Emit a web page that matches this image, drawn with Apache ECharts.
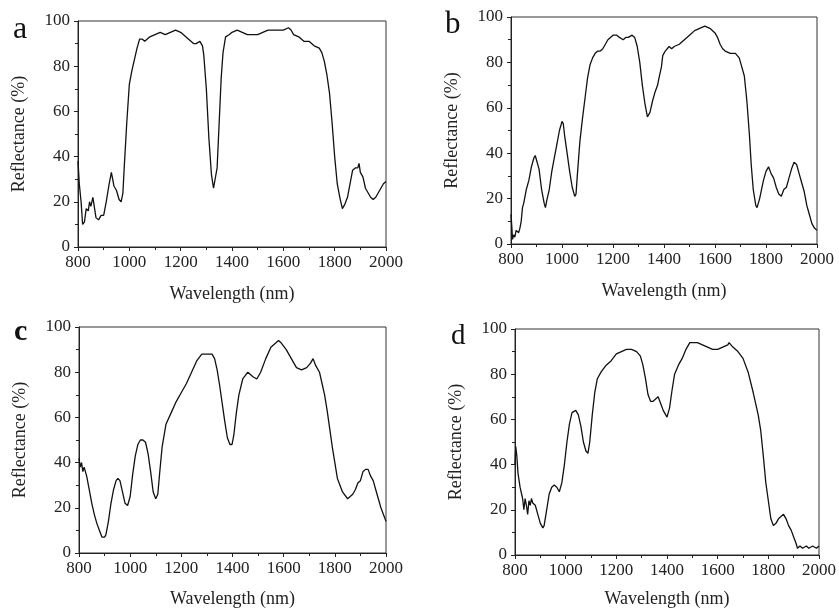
<!DOCTYPE html>
<html>
<head>
<meta charset="utf-8">
<script src="https://cdn.jsdelivr.net/npm/echarts@6/dist/echarts.min.js"></script>
<style>
html,body{margin:0;padding:0;background:#fff;}
#chart{width:839px;height:609px;}
</style>
</head>
<body>
<div id="chart"></div>
<script>
// Panel a
var aWave = [800,805,812,818,825,832,840,845,850,858,862,870,880,890,900,910,920,930,935,940,950,960,968,975,980,990,1000,1010,1020,1030,1040,1050,1060,1080,1100,1120,1140,1160,1180,1200,1220,1240,1250,1260,1275,1285,1290,1300,1310,1320,1328,1335,1342,1350,1358,1365,1375,1390,1400,1420,1440,1460,1480,1500,1520,1540,1560,1580,1600,1620,1630,1640,1660,1680,1700,1720,1740,1750,1760,1770,1780,1790,1800,1810,1820,1830,1840,1850,1860,1870,1880,1890,1895,1900,1910,1920,1930,1940,1950,1960,1970,1980,1990,2000];
var aRefl = [38,28,20,10,11,17,16,20,18,22,19,13,12,14,14,20,27,33,30,27,25,21,20,24,35,55,72,78,83,88,92,92,91,93,94,95,94,95,96,95,93,91,90,90,91,89,85,70,48,32,26,26,35,55,75,86,93,94,95,96,95,94,94,94,95,96,96,96,96,97,96,94,93,91,91,89,88,86,82,76,68,55,40,28,22,17,19,22,28,34,35,35,37,33,31,26,24,22,21,22,24,26,28,29];
// Panel b
var bWave = [800,803,806,810,815,820,830,835,840,845,850,860,870,880,890,895,900,910,920,930,935,940,950,960,970,980,990,1000,1005,1010,1020,1030,1040,1050,1055,1060,1070,1080,1090,1100,1110,1120,1130,1140,1150,1160,1170,1180,1190,1200,1215,1225,1240,1250,1260,1275,1285,1295,1305,1315,1325,1335,1345,1355,1365,1375,1380,1390,1395,1405,1420,1430,1440,1460,1480,1500,1520,1540,1560,1580,1600,1610,1620,1630,1640,1660,1680,1695,1705,1715,1725,1735,1742,1750,1760,1765,1775,1790,1800,1810,1820,1830,1840,1850,1860,1870,1880,1890,1900,1910,1920,1930,1940,1950,1960,1970,1980,1990,2000];
var bRefl = [13,8,2,4,3,6,5,7,10,16,18,24,28,34,38,39,37,33,24,18,16,19,24,32,38,44,50,54,53,48,40,32,25,21,22,30,45,55,64,73,79,82,84,85,85,86,88,90,91,92,92,91,90,91,91,92,91,87,80,70,62,56,58,63,67,70,73,78,83,85,87,86,87,88,90,92,94,95,96,95,93,91,88,86,85,84,84,82,78,74,63,48,35,24,17,16,20,28,32,34,31,29,25,22,21,24,25,29,33,36,35,31,27,23,17,13,9,7,6];
// Panel c
var cWave = [800,805,810,815,820,825,830,840,850,860,870,880,890,900,905,915,925,935,945,952,960,970,980,990,1000,1010,1020,1030,1040,1050,1060,1070,1080,1090,1100,1108,1115,1125,1140,1160,1180,1200,1220,1240,1260,1280,1300,1320,1330,1340,1350,1360,1370,1380,1390,1398,1405,1415,1425,1440,1460,1480,1495,1510,1530,1550,1570,1580,1590,1610,1630,1650,1670,1690,1705,1715,1725,1740,1750,1760,1770,1780,1790,1800,1810,1820,1830,1850,1860,1870,1880,1890,1900,1910,1920,1930,1940,1950,1960,1970,1980,1990,2000];
var cRefl = [42,38,40,36,38,36,34,28,22,17,13,10,7,7,8,14,22,28,32,33,32,27,22,21,25,35,43,48,50,50,49,44,36,27,24,26,35,47,57,62,67,71,75,80,85,88,88,88,86,81,74,66,58,51,48,48,52,62,70,77,80,78,77,80,86,91,93,94,93,90,86,82,81,82,84,86,83,80,75,70,63,55,47,40,33,30,27,24,25,26,28,31,32,36,37,37,34,32,28,24,20,17,14];
// Panel d
var dWave = [800,803,807,812,820,830,835,840,845,850,855,860,865,870,880,890,900,910,915,925,935,945,955,965,975,985,995,1005,1015,1025,1040,1050,1060,1070,1080,1088,1095,1105,1115,1125,1140,1160,1180,1200,1220,1240,1260,1280,1295,1305,1315,1325,1335,1345,1355,1365,1375,1385,1400,1410,1420,1430,1445,1460,1475,1490,1505,1520,1540,1560,1580,1600,1620,1640,1645,1660,1680,1700,1720,1740,1760,1770,1780,1790,1800,1810,1820,1830,1840,1850,1860,1870,1880,1890,1900,1910,1915,1925,1935,1950,1960,1975,1990,2000];
var dRefl = [40,48,44,36,30,25,20,25,22,18,24,22,25,23,22,18,14,12,13,20,27,30,31,30,28,32,40,50,58,63,64,62,57,50,46,45,50,62,72,78,81,84,86,89,90,91,91,90,88,84,78,71,68,68,69,70,67,64,61,65,73,80,84,87,91,94,94,94,93,92,91,91,92,93,94,92,90,87,81,72,62,55,44,32,24,16,13,14,16,17,18,16,13,11,8,5,3,4,3,4,3,4,3,4];

var xTicks = [800,1000,1200,1400,1600,1800,2000];
var yTicks = [0,20,40,60,80,100];
var panelLetters = ['a','b','c','d'];

var FONT = '"Liberation Serif", "DejaVu Serif", serif';
var grids = [
  {left:78, top:21, width:308, height:226},
  {left:511, top:17, width:306, height:227},
  {left:79, top:327, width:307, height:227},
  {left:515, top:329, width:306, height:226}
];
var xNameGaps = [38, 38, 37, 35];
var series = [[aWave,aRefl],[bWave,bRefl],[cWave,cRefl],[dWave,dRefl]];

function zip(xs, ys){ var out=[]; for(var i=0;i<xs.length;i++) out.push([xs[i], ys[i]]); return out; }
function plain(v){ return String(v); }

var option = {
  animation:false,
  backgroundColor:'#fff',
  grid: grids.map(function(g){ return Object.assign({show:true, borderColor:'#333', borderWidth:1, backgroundColor:'transparent'}, g); }),
  xAxis: grids.map(function(g,i){ return {
    gridIndex:i, type:'value', min:xTicks[0], max:xTicks[xTicks.length-1], interval:200,
    name:'Wavelength (nm)', nameLocation:'middle', nameGap:xNameGaps[i],
    nameTextStyle:{fontFamily:FONT, fontSize:18, color:'#222'},
    axisLine:{show:true, onZero:false, lineStyle:{color:'#222', width:1}},
    axisTick:{show:true, inside:false, length:4, lineStyle:{color:'#222'}},
    minorTick:{show:true, splitNumber:2, length:3, lineStyle:{color:'#222'}},
    splitLine:{show:false},
    axisLabel:{fontFamily:FONT, fontSize:17, color:'#222', margin:7, formatter:plain}
  };}),
  yAxis: grids.map(function(g,i){ return {
    gridIndex:i, type:'value', min:yTicks[0], max:yTicks[yTicks.length-1], interval:20,
    name:'Reflectance (%)', nameLocation:'middle', nameGap:50,
    nameTextStyle:{fontFamily:FONT, fontSize:18, color:'#222'},
    axisLine:{show:true, onZero:false, lineStyle:{color:'#222', width:1}},
    axisTick:{show:true, inside:false, length:4, lineStyle:{color:'#222'}},
    minorTick:{show:true, splitNumber:2, length:3, lineStyle:{color:'#222'}},
    splitLine:{show:false},
    axisLabel:{fontFamily:FONT, fontSize:17, color:'#222', margin:8, formatter:plain}
  };}),
  series: series.map(function(s,i){ return {
    type:'line', xAxisIndex:i, yAxisIndex:i, data:zip(s[0], s[1]),
    showSymbol:false, smooth:false, lineStyle:{color:'#111', width:1.3}, silent:true
  };}),
  graphic: [
    {type:'text', left:13, top:14, style:{text:panelLetters[0], font:'32px ' + FONT, fill:'#111'}},
    {type:'text', left:445, top:9, style:{text:panelLetters[1], font:'31px ' + FONT, fill:'#111'}},
    {type:'text', left:14, top:317, style:{text:panelLetters[2], font:'bold 30px ' + FONT, fill:'#111'}},
    {type:'text', left:451, top:322, style:{text:panelLetters[3], font:'29px ' + FONT, fill:'#111'}}
  ]
};
var chart = echarts.init(document.getElementById('chart'), null, {renderer:'canvas'});
chart.setOption(option);
</script>
</body>
</html>
